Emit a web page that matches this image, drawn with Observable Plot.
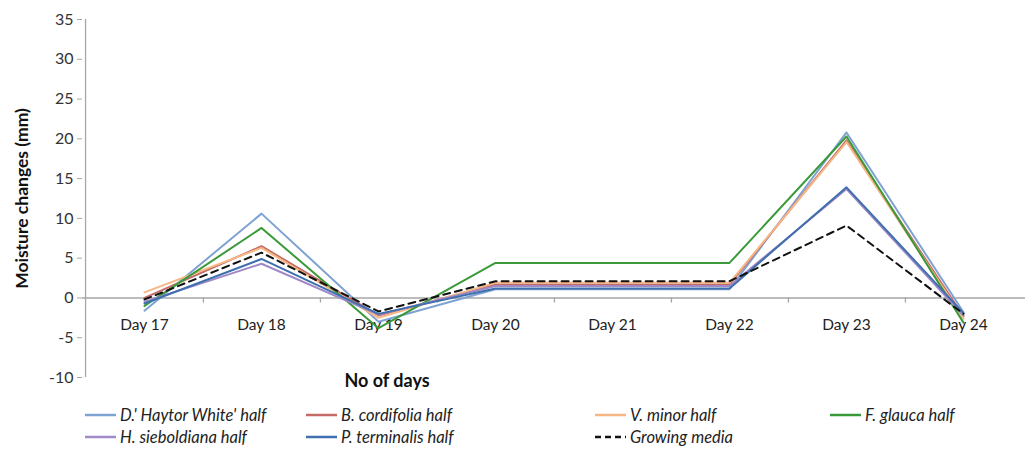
<!DOCTYPE html>
<html>
<head>
<meta charset="utf-8">
<script src="https://cdn.jsdelivr.net/npm/d3@7"></script>
<script src="https://cdn.jsdelivr.net/npm/@observablehq/plot@0.6"></script>
<style>
  html, body { margin: 0; padding: 0; background: #fff; }
  body { width: 1025px; height: 450px; overflow: hidden; font-family: Lato, "Open Sans", sans-serif; }
  #legend { position: relative; width: 1025px; height: 55px; font-style: italic; font-size: 16.5px; color: #222; }
  .item { position: absolute; display: flex; align-items: center; white-space: nowrap; line-height: 20px; }
  .item svg { margin-right: 4px; }
</style>
</head>
<body>
<div id="chart"></div>
<div id="legend"></div>
<script>
const days = ["Day 17", "Day 18", "Day 19", "Day 20", "Day 21", "Day 22", "Day 23", "Day 24"];
const yTicks = [-10, -5, 0, 5, 10, 15, 20, 25, 30, 35];

const seriesNames = ["D.' Haytor White' half", "B. cordifolia half", "V. minor half", "F. glauca half", "H. sieboldiana half", "P. terminalis half", "Growing media"];
const seriesColors = ["#7ea3d3", "#c46a67", "#f6b784", "#3a9a3a", "#9f89c7", "#3f6fae", "#111111"];

const haytor      = [-1.6, 10.6, -3.0, 1.1, 1.1, 1.1, 20.8, -1.8];
const cordifolia  = [ 0.0,  6.5, -2.2, 1.7, 1.7, 1.7, 19.8, -2.3];
const minor       = [ 0.7,  6.3, -2.5, 1.9, 1.9, 1.9, 19.6, -2.6];
const glauca      = [-1.0,  8.8, -3.8, 4.4, 4.4, 4.4, 20.3, -3.1];
const sieboldiana = [-0.5,  4.3, -2.1, 1.5, 1.5, 1.5, 13.7, -2.2];
const terminalis  = [-0.7,  4.9, -2.0, 1.2, 1.2, 1.2, 13.9, -1.9];
const media       = [-0.2,  5.7, -1.7, 2.1, 2.1, 2.1,  9.1, -2.0];

const seriesValues = [haytor, cordifolia, minor, glauca, sieboldiana, terminalis, media];

const rows = [];
seriesNames.forEach((name, i) => {
  days.forEach((d, j) => rows.push({series: name, day: d, value: seriesValues[i][j]}));
});

const W = 1025, H = 395, mL = 82, mR = 0, mT = 19, mB = 18;
const step = (W - mL - mR) / days.length;

const colored = seriesNames.slice(0, 6);
const chart = Plot.plot({
  width: W, height: H,
  marginLeft: mL, marginRight: mR, marginTop: mT, marginBottom: mB,
  style: {fontFamily: "Lato, 'Open Sans', sans-serif", fontSize: "15px", background: "#fff"},
  x: {type: "point", domain: days, padding: 0.5, axis: null},
  y: {domain: [yTicks[0], yTicks[yTicks.length - 1]], axis: null},
  color: {domain: seriesNames, range: seriesColors},
  marks: [
    Plot.ruleX([days[0]], {y1: yTicks[0], y2: yTicks[yTicks.length - 1], dx: -step / 2, stroke: "#a6a6a6", strokeWidth: 1.3}),
    Plot.axisY(yTicks, {tickSize: 5, tickPadding: 4, stroke: "#a6a6a6", fill: "#333", fontSize: 16, label: null, tickFormat: d => String(d)}),
    Plot.ruleY([0], {stroke: "#a6a6a6", strokeWidth: 1.5}),
    Plot.ruleX(days.slice(0, -1), {x: d => d, y1: 0, y2: -0.65, dx: step / 2, stroke: "#a6a6a6", strokeWidth: 1.3}),
    Plot.text(days, {x: d => d, y: 0, dy: 27, text: d => d, fill: "#222", fontSize: 15.5}),
    Plot.line(rows.filter(r => colored.includes(r.series)), {x: "day", y: "value", z: "series", stroke: "series", strokeWidth: 2}),
    Plot.line(rows.filter(r => r.series === "Growing media"), {x: "day", y: "value", stroke: "#111", strokeWidth: 2, strokeDasharray: "7,5"}),
    Plot.text(["Moisture changes (mm)"], {frameAnchor: "left", textAnchor: "middle", lineAnchor: "middle", rotate: -90, dx: -60, fontWeight: "bold", fontSize: 17.5, fill: "#111"}),
    Plot.text(["No of days"], {frameAnchor: "bottom", textAnchor: "middle", lineAnchor: "middle", dx: -167, dy: 4, fontWeight: "bold", fontSize: 18, fill: "#111"})
  ]
});
document.getElementById("chart").appendChild(chart);

// Legend
const legend = document.getElementById("legend");
const lefts = [85, 306, 595, 830, 85, 306, 595];
const tops = [10, 10, 10, 10, 32, 32, 32];
seriesNames.forEach((name, i) => {
  const item = document.createElement("div");
  item.className = "item";
  item.style.left = lefts[i] + "px";
  item.style.top = tops[i] + "px";
  const dashed = name === "Growing media";
  item.innerHTML = `<svg width="31" height="6"><line x1="0" x2="31" y1="3" y2="3" stroke="${seriesColors[i]}" stroke-width="2.5" ${dashed ? 'stroke-dasharray="6,4"' : ''}/></svg><span>${name}</span>`;
  legend.appendChild(item);
});
</script>
</body>
</html>
